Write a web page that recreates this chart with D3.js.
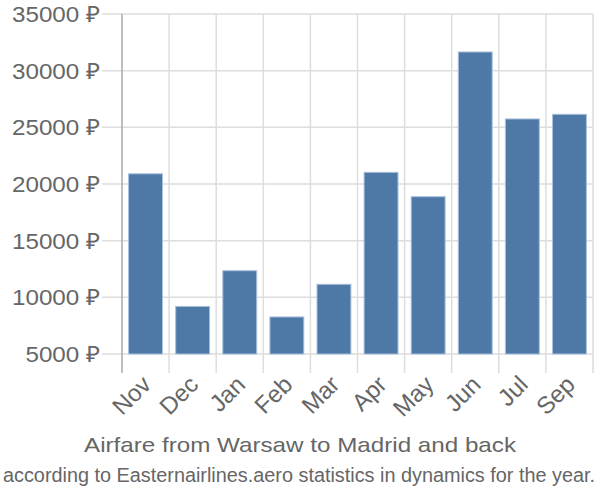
<!DOCTYPE html>
<html><head><meta charset="utf-8">
<script src="https://cdn.jsdelivr.net/npm/d3@7"></script>
<style>body{margin:0;background:#fff}svg{display:block}text{font-family:"Liberation Sans",Arial,sans-serif}</style>
</head><body><svg id="c" width="600" height="500"></svg>
<script>
const months = ["Nov","Dec","Jan","Feb","Mar","Apr","May","Jun","Jul","Sep"];
const prices = [20900,9200,12350,8270,11150,21030,18880,31650,25740,26150];
const yTicks = [5000,10000,15000,20000,25000,30000,35000];
const title = "Airfare from Warsaw to Madrid and back";
const subtitle = "according to Easternairlines.aero statistics in dynamics for the year.";

const svg = d3.select("#c");
const L=122, R=593, T=14, B=354;
const x = d3.scaleBand().domain(months).range([L,R]).paddingInner(0.28).paddingOuter(0.14);
const xb = d3.scaleBand().domain(months).range([L,R]);
const y = d3.scaleLinear().domain([5000,35000]).range([B,T]);

// horizontal grid
svg.append("g").selectAll("line").data(yTicks).join("line")
  .attr("x1",L-20).attr("x2",R).attr("y1",d=>y(d)).attr("y2",d=>y(d))
  .attr("stroke","#dddddd").attr("stroke-width",1.5);
// vertical grid
const bounds = months.map(m=>xb(m)).concat([R]);
svg.append("g").selectAll("line").data(bounds.slice(1)).join("line")
  .attr("x1",d=>d).attr("x2",d=>d).attr("y1",T).attr("y2",B+19)
  .attr("stroke","#dddddd").attr("stroke-width",1.5);
// left axis
svg.append("line").attr("x1",L).attr("x2",L).attr("y1",T).attr("y2",B+19)
  .attr("stroke","#aaaaaa").attr("stroke-width",1.5);

// y labels
const yl = svg.append("g").selectAll("text").data(yTicks).join("text")
  .attr("x",L-22).attr("y",d=>y(d)).attr("dy","0.36em")
  .attr("text-anchor","end").attr("fill","#666").attr("font-size",22.5)
  .text(d=>d+" ₽");
const ref = yl.nodes()[yl.nodes().length-1].getComputedTextLength();
const f = 88/ref;
yl.each(function(){ const w=this.getComputedTextLength(); d3.select(this).attr("textLength",w*f).attr("lengthAdjust","spacingAndGlyphs"); });

// bars
svg.append("g").selectAll("rect").data(months).join("rect")
  .attr("x",m=>x(m)).attr("width",x.bandwidth())
  .attr("y",(m,i)=>y(prices[i])).attr("height",(m,i)=>B-y(prices[i]))
  .attr("fill","#4e79a7").attr("stroke","#a9c1dd").attr("stroke-width",1);

// x labels
svg.append("g").selectAll("text").data(months).join("text")
  .attr("transform",m=>`translate(${xb(m)+xb.bandwidth()/2+7},${B+32}) rotate(-45)`)
  .attr("text-anchor","end").attr("fill","#666").attr("font-size",24)
  .text(m=>m);

svg.append("text").attr("x",300).attr("y",452).attr("text-anchor","middle")
  .attr("fill","#666").attr("font-size",21)
  .attr("textLength",432).attr("lengthAdjust","spacingAndGlyphs").text(title);
svg.append("text").attr("x",299).attr("y",481.5).attr("text-anchor","middle")
  .attr("fill","#666").attr("font-size",20)
  .attr("textLength",592).attr("lengthAdjust","spacingAndGlyphs").text(subtitle);
</script></body></html>
